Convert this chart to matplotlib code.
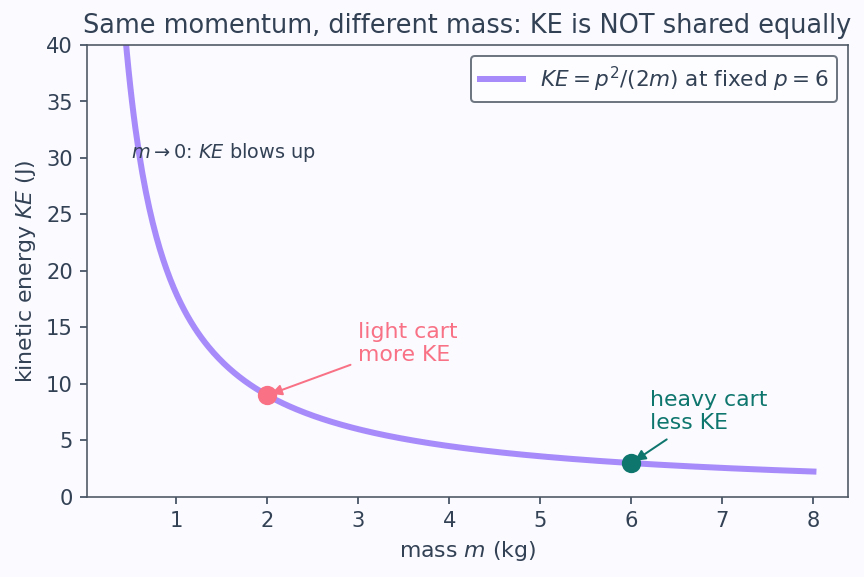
import matplotlib
matplotlib.use("Agg")
import matplotlib.pyplot as plt
import numpy as np

# fixed momentum, KE = p^2 / (2m)
p = 6
mass = np.linspace(0.4, 8, 400)
ke = p ** 2 / (2 * mass)

light_m, light_ke = 2, 9
heavy_m, heavy_ke = 6, 3

ink = "#334155"
curve_col = "#a78bfa"
light_col = "#f87185"
heavy_col = "#0f766e"
bg = "#fafaff"

plt.rcParams["font.family"] = ["DejaVu Sans"]
plt.rcParams["text.color"] = ink
plt.rcParams["axes.labelcolor"] = ink
plt.rcParams["xtick.color"] = ink
plt.rcParams["ytick.color"] = ink

fig, ax = plt.subplots(figsize=(6, 4.007), dpi=144)
fig.patch.set_facecolor(bg)
ax.set_facecolor(bg)

ax.plot(mass, ke, color=curve_col, lw=3, label=r"$KE = p^2/(2m)$ at fixed $p = 6$")
ax.scatter([light_m], [light_ke], s=75, color=light_col, zorder=5)
ax.scatter([heavy_m], [heavy_ke], s=75, color=heavy_col, zorder=5)

ax.annotate("light cart\nmore KE", xy=(light_m, light_ke), xytext=(3, 12),
            color=light_col, fontsize=11,
            arrowprops=dict(arrowstyle="-|>", color=light_col, lw=1.0))
ax.annotate("heavy cart\nless KE", xy=(heavy_m, heavy_ke), xytext=(6.2, 6),
            color=heavy_col, fontsize=11,
            arrowprops=dict(arrowstyle="-|>", color=heavy_col, lw=1.0))
ax.text(0.5, 30, r"$m \to 0$: $KE$ blows up", fontsize=9.6, color=ink)

ax.set_ylim(0, 40)
ax.set_title("Same momentum, different mass: KE is NOT shared equally", fontsize=12.8, color=ink)
ax.set_xlabel(r"mass $m$ (kg)", fontsize=11)
ax.set_ylabel(r"kinetic energy $KE$ (J)", fontsize=11)
ax.tick_params(labelsize=10.5)
for s in ax.spines.values():
    s.set_color("#4b5563")

leg = ax.legend(loc="upper right", fontsize=10.8, frameon=True)
leg.get_frame().set_edgecolor("#4b5563")
leg.get_frame().set_facecolor("white")

fig.subplots_adjust(left=0.1007, right=0.9815, top=0.922, bottom=0.1387)
plt.savefig("out.png", facecolor=bg)
